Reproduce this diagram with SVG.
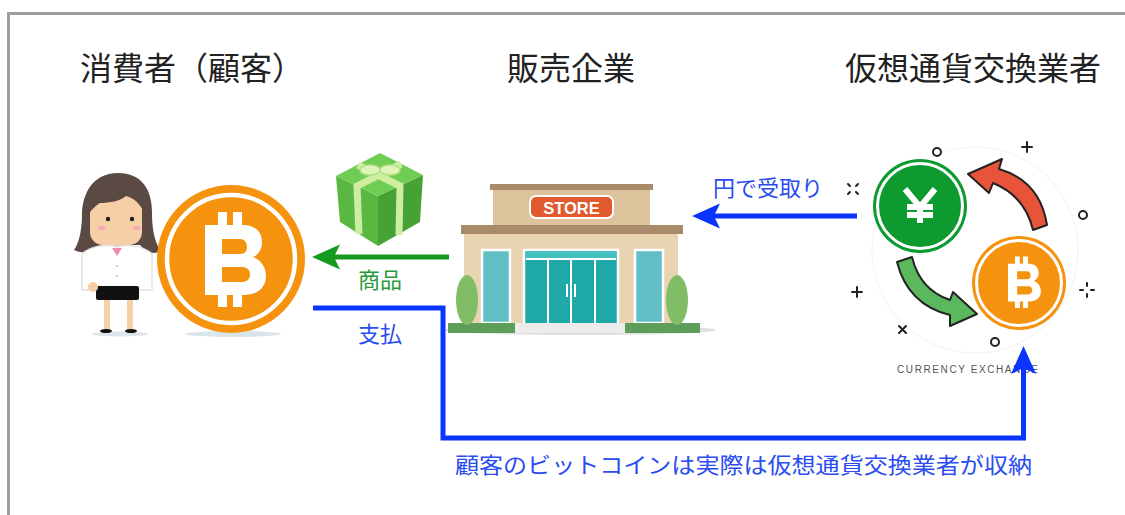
<svg xmlns="http://www.w3.org/2000/svg" width="1125" height="515" viewBox="0 0 1125 515">
  <style>
    .title { font-family: "Noto Sans CJK JP", "Noto Sans", sans-serif; font-size: 32px; fill: #222; }
    .lbl { font-family: "Noto Sans CJK JP", "Noto Sans", sans-serif; font-size: 22px; }
    .blue-t { fill: #2a4cf2; }
    .green-t { fill: #2a9a3a; }
    .deco { fill: none; stroke: #222; stroke-width: 2; stroke-linecap: round; }
    .skin { fill: #f7cfa6; }
    .hair { fill: #5b4a43; }
  </style>
  <defs>
    <!-- bitcoin "B" logo, centred near origin, ~95 units tall -->
    <path id="btc-b" fill="#fff" fill-rule="evenodd" d="M-26,-34 H12 C26,-34 31,-25 31,-17 C31,-9 27,-4 22,-2 C30,1 35,8 35,17 C35,29 26,36 13,36 H-26 Z M-9,-20 H9 C14,-20 16,-16 16,-12 C16,-8 14,-5 9,-5 H-9 Z M-9,8 H11 C17,8 19,12 19,15.5 C19,19 17,23 11,23 H-9 Z M-13,-47 h9 v13 h-9 Z M2,-47 h9 v13 h-9 Z M-13,36 h9 v12 h-9 Z M2,36 h9 v12 h-9 Z"/>
    <marker id="head-blue" viewBox="-16 -14 32 28" refX="0" refY="0" markerWidth="32" markerHeight="28" markerUnits="userSpaceOnUse" orient="auto">
      <path d="M14,0 L-14,-12.5 L-8,0 L-14,12.5 Z" fill="#0a35ff"/>
    </marker>
    <marker id="head-green" viewBox="-16 -14 32 28" refX="0" refY="0" markerWidth="32" markerHeight="28" markerUnits="userSpaceOnUse" orient="auto">
      <path d="M14,0 L-14,-12.5 L-8,0 L-14,12.5 Z" fill="#139a1f"/>
    </marker>
  </defs>

  <rect width="1125" height="515" fill="#fff"/>
  <!-- window frame -->
  <path d="M8.5,515 V13.5 H1125" fill="none" stroke="#9c9ea2" stroke-width="3"/>

  <!-- column titles -->
  <text class="title" x="80" y="80">消費者（顧客）</text>
  <text class="title" x="507" y="80">販売企業</text>
  <text class="title" x="845" y="80">仮想通貨交換業者</text>

  <!-- consumer: woman holding a bitcoin -->
  <g id="node-consumer">
    <ellipse cx="120" cy="334" rx="28" ry="2.5" fill="#dde6ea"/>
    <path class="hair" d="M118,173 C92,173 82,195 82,215 C82,232 78,245 74,250 C88,256 98,250 102,245 L140,245 C146,252 156,256 160,250 C154,240 152,228 152,212 C152,190 142,173 118,173 Z"/>
    <rect class="skin" x="112" y="240" width="10" height="8"/>
    <rect class="skin" x="90" y="196" width="52" height="49" rx="13"/>
    <path class="hair" d="M89,214 C88,192 102,180 118,180 C136,180 146,194 144,212 C140,204 134,198 126,196 C120,201 110,203 100,203 C95,206 91,210 89,214 Z"/>
    <circle cx="108" cy="219" r="2.2" fill="#222"/>
    <circle cx="132" cy="219" r="2.2" fill="#222"/>
    <ellipse cx="102" cy="228" rx="4" ry="2" fill="#f4a8b8"/>
    <ellipse cx="137" cy="228" rx="4" ry="2" fill="#f4a8b8"/>
    <rect class="skin" x="104" y="298" width="6" height="32"/>
    <rect class="skin" x="127" y="298" width="6" height="32"/>
    <ellipse cx="106" cy="331" rx="6" ry="2" fill="#111"/>
    <ellipse cx="131" cy="331" rx="6" ry="2" fill="#111"/>
    <path d="M82,254 C92,245 108,244 117,247 C126,244 142,245 152,254 L152,290 L82,290 Z" fill="#fff" stroke="#e2e2e2" stroke-width="1.5"/>
    <path d="M112,248 L117,256 L122,248 Z" fill="#f48aa8"/>
    <circle cx="117" cy="266" r="1" fill="#bbb"/>
    <circle cx="117" cy="276" r="1" fill="#bbb"/>
    <rect x="96" y="286" width="43" height="14" rx="2" fill="#111"/>
    <circle class="skin" cx="93" cy="287" r="5"/>
    <!-- coin -->
    <ellipse cx="233" cy="334" rx="48" ry="3" fill="#d8e6ec"/>
    <circle cx="231" cy="259" r="74" fill="#f5930f"/>
    <circle cx="231" cy="259" r="64" fill="none" stroke="#fff" stroke-width="4.5"/>
    <use href="#btc-b" transform="translate(231,259)"/>
  </g>

  <!-- goods: gift box -->
  <g id="node-gift">
    <path d="M336,176 L378,196 L378,246 L340,222 Z" fill="#5ab842"/>
    <path d="M378,196 L423,175 L420,222 L378,246 Z" fill="#46a234"/>
    <path d="M380,153 L423,175 L378,196 L336,176 Z" fill="#6fcc55"/>
    <path d="M358,165 L400,186 L399,235 M401,164 L357,186 L359,234" fill="none" stroke="#cdeea0" stroke-width="7"/>
    <ellipse cx="370" cy="170" rx="10" ry="5" fill="#dff5b8" stroke="#b8e088" stroke-width="1.5"/>
    <ellipse cx="390" cy="170" rx="10" ry="5" fill="#dff5b8" stroke="#b8e088" stroke-width="1.5"/>
  </g>

  <!-- store -->
  <g id="node-store">
    <ellipse cx="580" cy="330" rx="136" ry="5" fill="#dde0dd"/>
    <rect x="464" y="234" width="214" height="91" fill="#e9d4b2"/>
    <rect x="493" y="189" width="157" height="36" fill="#dcc39b"/>
    <rect x="490" y="184" width="163" height="6" fill="#a98a69"/>
    <rect x="461" y="225" width="222" height="9" fill="#a98a69"/>
    <rect x="530" y="196" width="83" height="22" rx="6" fill="#e05a2e" stroke="#fff" stroke-width="2"/>
    <text x="571.5" y="213.5" text-anchor="middle" font-family="Liberation Sans, Arial, sans-serif" font-weight="bold" font-size="16.5" fill="#fff">STORE</text>
    <rect x="482" y="250" width="28" height="73" fill="#5fbfc4" stroke="#fff" stroke-width="2.5"/>
    <rect x="635" y="250" width="28" height="73" fill="#5fbfc4" stroke="#fff" stroke-width="2.5"/>
    <rect x="524" y="250" width="94" height="75" fill="#1fa9a9" stroke="#fff" stroke-width="2.5"/>
    <rect x="526" y="252" width="90" height="7" fill="#45c0c0"/>
    <path d="M548,259 V325 M571,259 V325 M595,259 V325 M526,259 H616" stroke="#fff" stroke-width="2"/>
    <rect x="566" y="284" width="2" height="13" fill="#fff"/>
    <rect x="574" y="284" width="2" height="13" fill="#fff"/>
    <rect x="448" y="323" width="67" height="10" fill="#5e9e5a"/>
    <rect x="515" y="323" width="110" height="10" fill="#ececea"/>
    <rect x="625" y="323" width="75" height="10" fill="#5e9e5a"/>
    <ellipse cx="467" cy="300" rx="11" ry="25" fill="#80bd66"/>
    <ellipse cx="677" cy="300" rx="11" ry="25" fill="#80bd66"/>
  </g>

  <!-- currency exchange icon -->
  <g id="node-exchange">
    <circle cx="975" cy="250" r="103" fill="none" stroke="#f1f7fa" stroke-width="1.5"/>
    <circle cx="920" cy="206" r="47" fill="#0d9a2f"/>
    <circle cx="920" cy="206" r="42.5" fill="none" stroke="#fff" stroke-width="3"/>
    <path d="M905,189 L920,207 L935,189 M920,207 V223 M907,207 H933 M907,215 H933" fill="none" stroke="#fff" stroke-width="6"/>
    <circle cx="1019" cy="283" r="47" fill="#f5930f"/>
    <circle cx="1019" cy="283" r="42.5" fill="none" stroke="#fff" stroke-width="3"/>
    <use href="#btc-b" transform="translate(1022,282) scale(0.54)"/>
    <path d="M1033,230 Q1025,196 993,183 L989,193 L968,174 L1002,159 L999,169 Q1040,181 1047,225 Z" fill="#e8543a" stroke="#222" stroke-width="2" stroke-linejoin="round"/>
    <path d="M897,262 L912,257 Q920,290 950,300 L953,292 L977,314 L950,326 L950,315 Q908,305 897,262 Z" fill="#5cb85c" stroke="#222" stroke-width="2" stroke-linejoin="round"/>
    <circle class="deco" cx="937" cy="152" r="4"/>
    <circle class="deco" cx="1083" cy="215" r="4"/>
    <circle class="deco" cx="995" cy="342" r="4"/>
    <path class="deco" d="M1022,147 H1032 M1027,142 V152"/>
    <path class="deco" d="M852,292 H862 M857,287 V297"/>
    <path class="deco" d="M899,326 L906,333 M906,326 L899,333"/>
    <path class="deco" d="M848,184 L850,186 M858,184 L856,186 M848,194 L850,192 M858,194 L856,192"/>
    <path class="deco" d="M1080,290 H1083 M1091,290 H1094 M1087,283 V286 M1087,294 V297" stroke-width="1.5"/>
    <text x="897" y="373" font-family="Liberation Sans, Arial, sans-serif" font-size="10" letter-spacing="1.6" fill="#555">CURRENCY EXCHANGE</text>
  </g>

  <!-- flows between parties -->
  <g id="connectors" fill="none">
    <path d="M449,257 H326" stroke="#139a1f" stroke-width="5" marker-end="url(#head-green)"/>
    <path d="M857,216 H706" stroke="#0a35ff" stroke-width="5" marker-end="url(#head-blue)"/>
    <path d="M313,308 H443 V438 H1023.5 V360" stroke="#0a35ff" stroke-width="5" marker-end="url(#head-blue)"/>
  </g>

  <!-- connector labels -->
  <text class="lbl blue-t" x="713" y="196">円で受取り</text>
  <text class="lbl green-t" x="358" y="288">商品</text>
  <text class="lbl blue-t" x="358" y="342">支払</text>
  <text class="lbl blue-t" x="455" y="473" font-size="23.5" textLength="577" lengthAdjust="spacingAndGlyphs">顧客のビットコインは実際は仮想通貨交換業者が収納</text>
</svg>
